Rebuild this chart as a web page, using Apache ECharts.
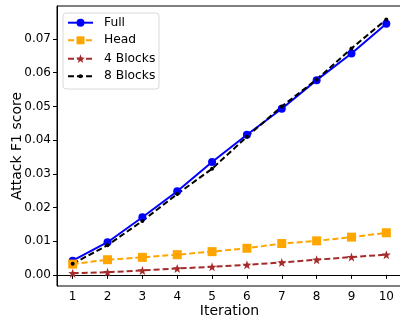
<!DOCTYPE html>
<html>
<head>
<meta charset="utf-8">
<script src="https://cdn.jsdelivr.net/npm/echarts@6/dist/echarts.min.js"></script>
<style>
  html, body { margin: 0; padding: 0; background: #fff; }
  #chart { width: 400px; height: 323px; }
</style>
</head>
<body>
<div id="chart"></div>
<script>
  // values
  var iterations = [1, 2, 3, 4, 5, 6, 7, 8, 9, 10];
  var fullScores = [0.0042, 0.0097, 0.0171, 0.0248, 0.0335, 0.0416, 0.0493, 0.0578, 0.0657, 0.0745];
  var headScores = [0.0032, 0.0045, 0.0052, 0.0060, 0.0069, 0.0079, 0.0093, 0.0101, 0.0112, 0.0125];
  var blocks4Scores = [0.0005, 0.0008, 0.0013, 0.0019, 0.0024, 0.0030, 0.0037, 0.0045, 0.0053, 0.0060];
  var blocks8Scores = [0.0033, 0.0088, 0.0160, 0.0240, 0.0315, 0.0410, 0.0500, 0.0580, 0.0672, 0.0758];
  var yTicks = [0, 0.01, 0.02, 0.03, 0.04, 0.05, 0.06, 0.07];
  var seriesNames = ['Full', 'Head', '4 Blocks', '8 Blocks'];

  var star = 'path://M0,-10L2.35,-3.24L9.51,-3.09L3.8,1.24L5.88,8.09L0,4L-5.88,8.09L-3.8,1.24L-9.51,-3.09L-2.35,-3.24Z';
  var font = 'DejaVu Sans';

  function pairs(vals) {
    return iterations.map(function (x, i) { return [x, vals[i]]; });
  }

  // one legend per entry so each keeps its own marker size
  var legendTops = [14.7, 32.3, 50.7, 68.3];
  var legendIconH = [10, 10, 11, 5];
  var legends = seriesNames.map(function (name, i) {
    return {
      orient: 'vertical',
      z: 6,
      left: 67,
      top: legendTops[i],
      padding: 0,
      itemWidth: 25,
      itemHeight: legendIconH[i],
      textStyle: {fontFamily: font, fontSize: 12.3, lineHeight: 16, color: '#000', padding: [0, 0, 0, 6]},
      data: [name]
    };
  });

  var chart = echarts.init(document.getElementById('chart'));
  chart.setOption({
    animation: false,
    textStyle: {fontFamily: font, color: '#000'},
    grid: {left: 57, top: 6, width: 345, height: 280, outerBoundsMode: 'none', show: true, borderColor: '#000', borderWidth: 1},
    graphic: [{
      type: 'rect',
      left: 62.5,
      top: 12.5,
      z: 5,
      shape: {width: 96, height: 76, r: 3},
      style: {fill: 'rgba(255,255,255,0.85)', stroke: '#d9d9d9', lineWidth: 1}
    }],
    legend: legends,
    xAxis: {
      type: 'value',
      min: 0.55,
      max: 10.45,
      name: 'Iteration',
      nameLocation: 'middle',
      nameGap: 18,
      nameMoveOverlap: false,
      nameTextStyle: {fontFamily: font, fontSize: 14, color: '#000'},
      splitLine: {show: false},
      axisLine: {show: true, lineStyle: {color: '#000', width: 1}},
      axisTick: {show: true, inside: false, length: 4, lineStyle: {color: '#000'}, customValues: iterations},
      axisLabel: {fontFamily: font, fontSize: 12, color: '#000', margin: 5, customValues: iterations}
    },
    yAxis: {
      type: 'value',
      min: -0.0033,
      max: 0.0798,
      name: 'Attack F1 score',
      nameLocation: 'middle',
      nameGap: 33,
      nameMoveOverlap: false,
      nameTextStyle: {fontFamily: font, fontSize: 14, color: '#000'},
      splitLine: {show: false},
      axisLine: {show: true, lineStyle: {color: '#000', width: 1}},
      axisTick: {show: true, inside: false, length: 4, lineStyle: {color: '#000'}, customValues: yTicks},
      axisLabel: {
        fontFamily: font, fontSize: 12, color: '#000', margin: 6, customValues: yTicks,
        formatter: function (v) { return v.toFixed(2); }
      }
    },
    series: [
      {
        name: 'Full',
        type: 'line',
        data: pairs(fullScores),
        symbol: 'circle',
        symbolSize: 8,
        itemStyle: {color: '#0000ff'},
        lineStyle: {color: '#0000ff', width: 2}
      },
      {
        name: 'Head',
        type: 'line',
        data: pairs(headScores),
        symbol: 'rect',
        symbolSize: 9,
        itemStyle: {color: '#ffa500'},
        lineStyle: {color: '#ffa500', width: 2, type: [6, 3]}
      },
      {
        name: '4 Blocks',
        type: 'line',
        data: pairs(blocks4Scores),
        symbol: star,
        symbolSize: 9,
        itemStyle: {color: '#a52a2a'},
        lineStyle: {color: '#a52a2a', width: 2, type: [6, 3]}
      },
      {
        name: '8 Blocks',
        type: 'line',
        data: pairs(blocks8Scores),
        symbol: 'circle',
        symbolSize: 4,
        itemStyle: {color: '#000'},
        lineStyle: {color: '#000', width: 2, type: [6, 3]}
      }
    ]
  });
</script>
</body>
</html>
